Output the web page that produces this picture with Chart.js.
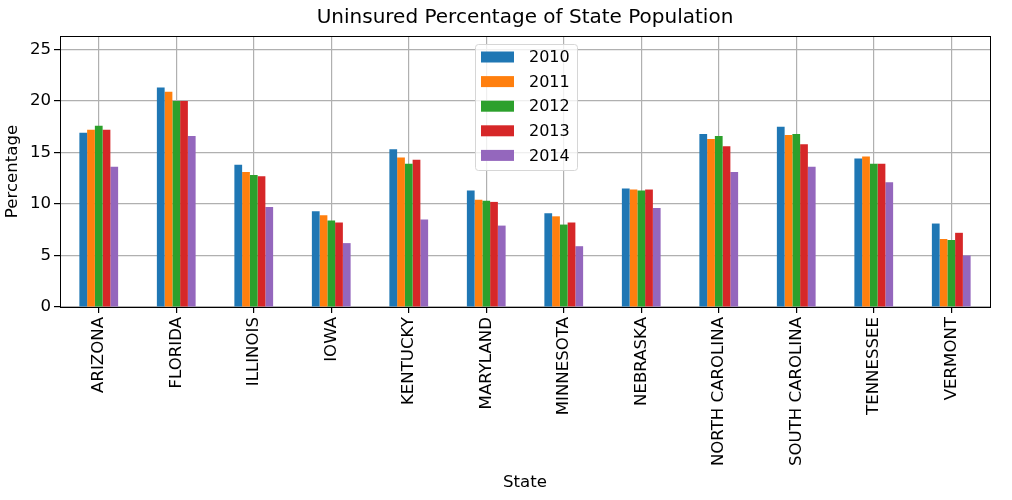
<!DOCTYPE html>
<html>
<head>
<meta charset="utf-8">
<script src="https://cdn.jsdelivr.net/npm/chart.js@4/dist/chart.umd.min.js"></script>
<style>
  html, body { margin: 0; padding: 0; background: #fff; }
  #wrap { width: 1012px; height: 500px; }
</style>
</head>
<body>
<div id="wrap"><canvas id="grafica" width="1012" height="500"></canvas></div>
<script>
const states = ["ARIZONA", "FLORIDA", "ILLINOIS", "IOWA", "KENTUCKY", "MARYLAND",
  "MINNESOTA", "NEBRASKA", "NORTH CAROLINA", "SOUTH CAROLINA", "TENNESSEE", "VERMONT"];
const years = ["2010", "2011", "2012", "2013", "2014"];
const y2010 = [16.9, 21.3, 13.8, 9.3, 15.3, 11.3, 9.1, 11.5, 16.8, 17.5, 14.4, 8.1];
const y2011 = [17.2, 20.9, 13.1, 8.9, 14.5, 10.4, 8.8, 11.4, 16.3, 16.7, 14.6, 6.6];
const y2012 = [17.6, 20.0, 12.8, 8.4, 13.9, 10.3, 8.0, 11.3, 16.6, 16.8, 13.9, 6.5];
const y2013 = [17.2, 20.0, 12.7, 8.2, 14.3, 10.2, 8.2, 11.4, 15.6, 15.8, 13.9, 7.2];
const y2014 = [13.6, 16.6, 9.7, 6.2, 8.5, 7.9, 5.9, 9.6, 13.1, 13.6, 12.1, 5.0];
const yTicks = [0, 5, 10, 15, 20, 25];
const colores = ["#1f77b4", "#ff7f0e", "#2ca02c", "#d62728", "#9467bd"];
const titulo = "Uninsured Percentage of State Population";

const FONT = "'DejaVu Sans', sans-serif";
const series = [y2010, y2011, y2012, y2013, y2014];

// titulo centrado sobre el area, marco completo y leyenda tipo matplotlib
const marcoLeyenda = {
  id: "marcoLeyenda",
  afterDraw(chart) {
    const ctx = chart.ctx;
    const a = chart.chartArea;
    ctx.save();
    ctx.fillStyle = "#000";
    ctx.font = "20px " + FONT;
    ctx.textAlign = "center";
    ctx.textBaseline = "middle";
    ctx.fillText(titulo, (a.left + a.right) / 2, 18);

    ctx.strokeStyle = "#000";
    ctx.lineWidth = 1;
    ctx.strokeRect(Math.round(a.left) + 0.5, Math.round(a.top) + 0.5,
      Math.round(a.right - a.left), Math.round(a.bottom - a.top));

    const x0 = 475, y0 = 44, w = 102, h = 126;
    ctx.fillStyle = "rgba(255,255,255,0.8)";
    ctx.strokeStyle = "#d6d6d6";
    ctx.beginPath();
    ctx.roundRect(x0 + 0.5, y0 + 0.5, w, h, 3);
    ctx.fill();
    ctx.stroke();

    ctx.font = "16px " + FONT;
    ctx.textAlign = "left";
    chart.data.datasets.forEach((ds, i) => {
      const cy = 57 + i * 24.6;
      ctx.fillStyle = ds.backgroundColor;
      ctx.fillRect(481, cy - 5.5, 33, 11);
      ctx.fillStyle = "#000";
      ctx.fillText(ds.label, 529, cy + 1);
    });
    ctx.restore();
  }
};

new Chart(document.getElementById("grafica"), {
  type: "bar",
  data: {
    labels: states,
    datasets: years.map((y, i) => ({
      label: y,
      data: series[i],
      backgroundColor: colores[i],
      borderWidth: 0,
      categoryPercentage: 0.5,
      barPercentage: 1.0
    }))
  },
  options: {
    responsive: false,
    animation: false,
    layout: { padding: { left: 0, right: 22, top: 36, bottom: 0 } },
    plugins: {
      legend: { display: false },
      tooltip: { enabled: false },
      title: { display: false }
    },
    scales: {
      x: {
        z: 1,
        offset: true,
        grid: { offset: false, color: "#b0b0b0", lineWidth: 1.2, tickColor: "#000", tickLength: 6 },
        border: { color: "#000", width: 1 },
        ticks: {
          color: "#000",
          font: { family: FONT, size: 16.6 },
          maxRotation: 90, minRotation: 90, autoSkip: false, padding: 4
        },
        title: {
          display: true, text: "State", color: "#000",
          font: { family: FONT, size: 16.6 }, padding: { top: 4, bottom: 7 }
        },
        afterFit(scale) { scale.height = 193; }
      },
      y: {
        z: 1,
        min: 0, max: 26.3,
        grid: { color: "#b0b0b0", lineWidth: 1.2, tickColor: "#000", tickLength: 6 },
        border: { color: "#000", width: 1 },
        ticks: {
          color: "#000", padding: 3,
          font: { family: FONT, size: 16.6 }
        },
        afterBuildTicks(scale) { scale.ticks = yTicks.map(v => ({ value: v })); },
        title: {
          display: true, text: "Percentage", color: "#000",
          font: { family: FONT, size: 16.6 }, padding: { top: 3, bottom: 0 }
        },
        afterFit(scale) { scale.width = 60; }
      }
    }
  },
  plugins: [marcoLeyenda]
});
</script>
</body>
</html>
